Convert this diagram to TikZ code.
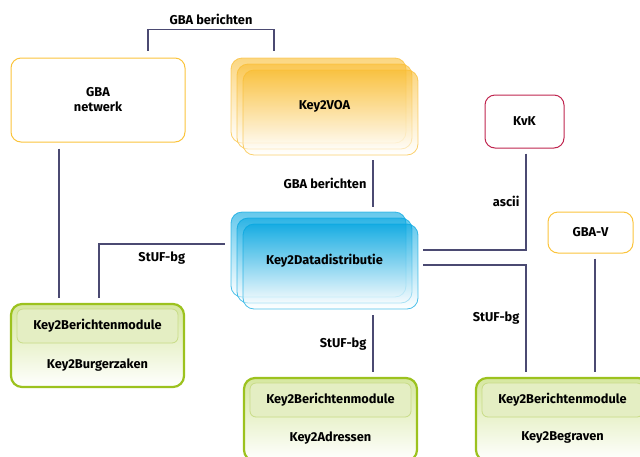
\documentclass[tikz,border=0pt]{standalone}
\usepackage{fontspec}
\setmainfont{Fira Sans}
\usepackage{tikz}
\usetikzlibrary{calc}

\definecolor{kline}{HTML}{4B4A72}
\definecolor{kyellow}{HTML}{FBC43C}
\definecolor{kcrimson}{HTML}{C0254F}
\definecolor{korange}{HTML}{F9BC2F}
\definecolor{kblue}{HTML}{00A5E0}
\definecolor{kgreen}{HTML}{9CC21E}
\definecolor{kgreenfill}{HTML}{D6E7A0}
\definecolor{kmodule}{HTML}{E4EEC3}
\definecolor{kmoduleline}{HTML}{C8DC86}

\begin{document}
\begin{tikzpicture}[x=1pt, y=-1pt, font=\bfseries\fontsize{12.8}{15}\selectfont,
    link/.style={draw=kline, line width=1.2pt},
    lbl/.style={inner sep=1pt},
    plainbox/.style={draw=#1, line width=1pt, rounded corners=10pt, fill=white, align=center},
    layer/.style={rounded corners=11pt, minimum width=175pt, minimum height=85pt,
        line width=0.8pt, draw=#1, top color=#1, bottom color=white,
        fill opacity=0.6, draw opacity=0.7},
    outer/.style={draw=kgreen, line width=2.2pt, rounded corners=11pt,
        minimum width=173pt, minimum height=83pt, top color=kgreenfill, bottom color=white},
    module/.style={draw=kmoduleline, line width=0.8pt, rounded corners=6pt, fill=kmodule,
        minimum width=161pt, minimum height=34pt}]
    \useasboundingbox (0,0) rectangle (640,456);
    % - Plain boxes
    \node[plainbox=kyellow, minimum width=174pt, minimum height=84pt] (gba) at (98,100) {GBA\\netwerk};
    \node[plainbox=kcrimson, minimum width=79pt, minimum height=53pt] (kvk) at (524.5,121.5) {KvK};
    \node[plainbox=kyellow, minimum width=85pt, minimum height=41pt] (gbav) at (590.5,232.5) {GBA-V};
    % - Key2VOA stack
    \node[layer=korange] (voa3) at (318.5,100.5) {};
    \node[layer=korange] (voa2) at (324.5,106.5) {};
    \node[layer=korange] (voa) at (330.5,112.5) {};
    \node at (voa2) {Key2VOA};
    % - Key2Datadistributie stack
    \node[layer=kblue] (dd3) at (318.5,254.5) {};
    \node[layer=kblue] (dd2) at (324.5,260.5) {};
    \node[layer=kblue] (dd) at (330.5,266.5) {};
    \node at (dd2) {Key2Datadistributie};
    % - Green modules
    \node[outer] (bz) at (97.5,345.5) {};
    \node[module] (bzmod) at (97.5,326) {Key2Berichtenmodule};
    \node at (97.5,365) {Key2Burgerzaken};
    \node[outer] (ad) at (330.5,419.5) {};
    \node[module] (admod) at (330.5,400) {Key2Berichtenmodule};
    \node at (330.5,438) {Key2Adressen};
    \node[outer] (bg) at (562.5,419.5) {};
    \node[module] (bgmod) at (562.5,400) {Key2Berichtenmodule};
    \node at (562.5,437.5) {Key2Begraven};
    % - Connectors
    \draw[link] ([xshift=50pt,yshift=7pt]gba.north) -- ++(0,-21)
        -| node[pos=0.25, above=3pt, lbl]{GBA berichten} ([xshift=-44.5pt,yshift=7pt]voa3.north);
    \draw[link] ([xshift=42.5pt,yshift=-5pt]voa.south)
        -- node[left=5pt, lbl]{GBA berichten} ([xshift=54.5pt,yshift=5pt]dd3.north);
    \draw[link] ([xshift=-6pt,yshift=10.5pt]dd3.west)
        -| node[pos=0.25, below=6pt, lbl]{StUF-bg} ([xshift=1.5pt,yshift=5pt]bz.north);
    \draw[link] ([xshift=-39pt,yshift=-6pt]gba.south) -- ([xshift=-38.5pt,yshift=5pt]bz.north);
    \draw[link] ([xshift=1.5pt,yshift=-5pt]kvk.south)
        |- node[pos=0.25, left=5pt, lbl]{ascii} ([xshift=5pt,yshift=16.5pt]dd.east);
    \draw[link] ([xshift=5pt,yshift=1.5pt]dd.east)
        -| node[pos=0.75, left=5pt, lbl]{StUF-bg} ([xshift=-36.5pt,yshift=5pt]bg.north);
    \draw[link] ([xshift=4.5pt,yshift=-5pt]gbav.south) -- ([xshift=32.5pt,yshift=5pt]bg.north);
    \draw[link] ([xshift=42.5pt,yshift=-6pt]dd.south)
        -- node[left=5pt, lbl]{StUF-bg} ([xshift=42.5pt,yshift=5pt]ad.north);
\end{tikzpicture}
\end{document}
